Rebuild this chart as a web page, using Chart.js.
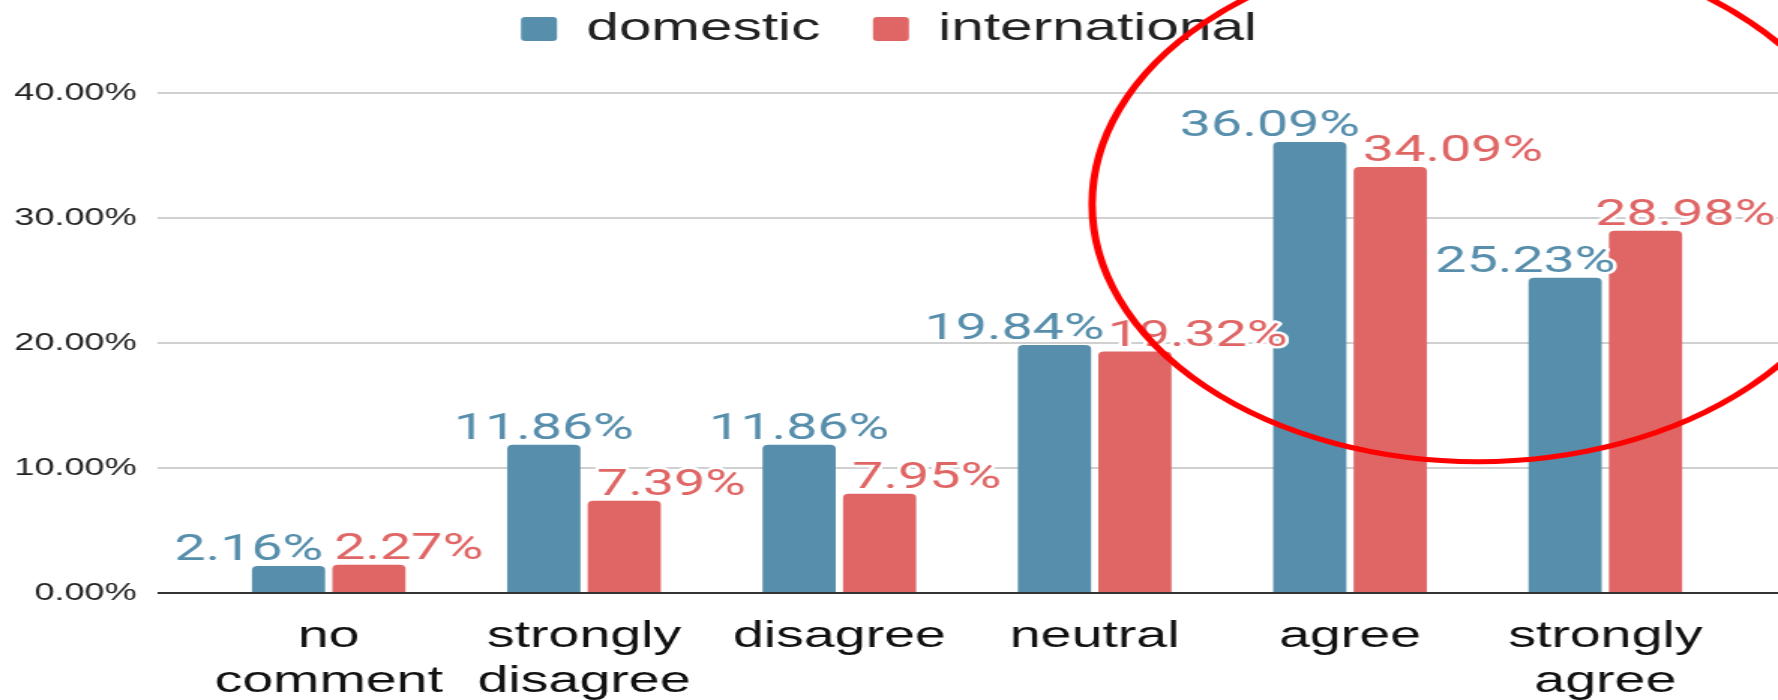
<!DOCTYPE html>
<html>
<head>
<meta charset="utf-8">
<script src="https://cdn.jsdelivr.net/npm/chart.js@4.4.1/dist/chart.umd.min.js"></script>
<style>
  html, body { margin: 0; padding: 0; background: #fff; overflow: hidden; }
  /* the source picture is stretched sideways, so the chart is drawn narrow and widened */
  #wrap { position: relative; width: 1185px; height: 700px; transform: scaleX(1.5004); transform-origin: 0 0; }
</style>
</head>
<body>
<div id="wrap"><canvas id="surveyChart"></canvas></div>
<script>
const categories = [["no", "comment"], ["strongly", "disagree"], "disagree", "neutral", "agree", ["strongly", "agree"]];
const domestic = [2.16, 11.86, 11.86, 19.84, 36.09, 25.23];
const international = [2.27, 7.39, 7.95, 19.32, 34.09, 28.98];
const yTicks = [0, 10, 20, 30, 40];

const BLUE = "#568eac";
const RED = "#e06666";
const AXIS_FONT = "'Liberation Sans', Arial, sans-serif";

const gridColor = (c) => (c.tick && c.tick.value === 0 ? "#333333" : "#d0d0d0");
const fixedTicks = (s) => { s.ticks = yTicks.map((v) => ({ value: v })); };

// value labels above the bars; pushed sideways so they don't run into the neighbour
const barLabels = {
  id: "barLabels",
  afterDatasetsDraw(chart) {
    const ctx = chart.ctx;
    const blueBars = chart.getDatasetMeta(0).data;
    const redBars = chart.getDatasetMeta(1).data;
    const [dsB, dsR] = chart.data.datasets;
    const SHIFT = 26.5, H = 28, LIFT = 6;
    ctx.save();
    ctx.font = "37px Roboto";
    ctx.textAlign = "left";
    ctx.textBaseline = "alphabetic";
    ctx.lineJoin = "round";
    const draw = (txt, left, y, color) => {
      ctx.strokeStyle = "#fff";
      ctx.lineWidth = 5;
      ctx.strokeText(txt, left, y);
      ctx.fillStyle = color;
      ctx.fillText(txt, left, y);
    };
    blueBars.forEach((b, j) => {
      const r = redBars[j];
      const tb = dsB.data[j].toFixed(2) + "%";
      const tr = dsR.data[j].toFixed(2) + "%";
      const wb = ctx.measureText(tb).width;
      const wr = ctx.measureText(tr).width;
      const yb = b.y - LIFT;
      const yr = r.y - LIFT;
      const clash = Math.abs(yb - yr) < H;

      let rl = r.x + SHIFT - wr / 2;
      if (yr > b.y) rl = Math.max(rl, b.x + b.width / 2 + 11);

      let bl = b.x - wb / 2;
      if (clash || yb > r.y) {
        bl -= SHIFT;
        if (clash) bl = Math.min(bl, rl - 2 - wb);
      }
      draw(tb, bl, yb, dsB.backgroundColor);
      draw(tr, rl, yr, dsR.backgroundColor);
    });
    ctx.restore();
  }
};

// the red hand-drawn ring around agree / strongly agree
const ringNote = {
  id: "ringNote",
  afterDraw(chart) {
    const x = chart.scales.x;
    const y = chart.scales.y;
    const cx = x.getPixelForValue(4.5);
    const cy = y.getPixelForValue(31.1);
    const rx = (x.getPixelForValue(1) - x.getPixelForValue(0)) * 1.51;
    const ry = y.getPixelForValue(0) - y.getPixelForValue(20.6);
    const ctx = chart.ctx;
    ctx.save();
    ctx.strokeStyle = "#f00";
    ctx.lineWidth = 5;
    ctx.beginPath();
    ctx.ellipse(cx, cy, rx, ry, 0, 0, Math.PI * 2);
    ctx.stroke();
    ctx.restore();
  }
};

// legend sits close to the top edge, above where the layout would put it
const legendLift = {
  id: "legendLift",
  afterLayout(chart) {
    const l = chart.legend;
    const d = l.top + 25.5;
    l.top -= d;
    l.bottom -= d;
  }
};

const ctx = document.getElementById("surveyChart").getContext("2d");
const surveyChart = new Chart(ctx, {
  type: "bar",
  data: {
    labels: categories,
    datasets: [
      {
        label: "domestic",
        data: domestic,
        backgroundColor: BLUE,
        borderRadius: 4,
        categoryPercentage: 0.63,
        barPercentage: 0.91,
      },
      {
        label: "international",
        data: international,
        backgroundColor: RED,
        borderRadius: 4,
        categoryPercentage: 0.63,
        barPercentage: 0.91,
      },
    ],
  },
  options: {
    responsive: true,
    maintainAspectRatio: false,
    animation: false,
    layout: { padding: 0 },
    scales: {
      x: {
        grid: { display: false, drawTicks: false },
        border: { display: false },
        ticks: {
          color: "#111",
          font: { family: AXIS_FONT, size: 37, lineHeight: 1.216 },
          padding: 21,
          maxRotation: 0,
          autoSkip: false,
        },
        afterFit(s) { s.height = 107; },
      },
      y: {
        min: 0,
        max: 40,
        afterBuildTicks: fixedTicks,
        grid: { color: gridColor, lineWidth: 2, tickLength: 29 },
        border: { display: false },
        ticks: {
          color: "#222",
          font: { family: AXIS_FONT, size: 24 },
          padding: 14,
          callback: (v) => v.toFixed(2) + "%",
        },
        afterFit(s) { s.width = 134; s.paddingTop = 93; },
      },
      y2: {
        type: "linear",
        position: "right",
        min: 0,
        max: 40,
        afterBuildTicks: fixedTicks,
        grid: { drawOnChartArea: false, color: gridColor, lineWidth: 2, tickLength: 30 },
        border: { display: false },
        ticks: { display: false },
        afterFit(s) { s.width = 30; },
      },
    },
    plugins: {
      legend: {
        position: "top",
        labels: {
          boxWidth: 24,
          boxHeight: 24,
          padding: 35,
          color: "#222",
          font: { family: AXIS_FONT, size: 39 },
          useBorderRadius: true,
          borderRadius: 3,
        },
      },
      tooltip: { enabled: false },
    },
  },
  plugins: [barLabels, ringNote, legendLift],
});
</script>
</body>
</html>
